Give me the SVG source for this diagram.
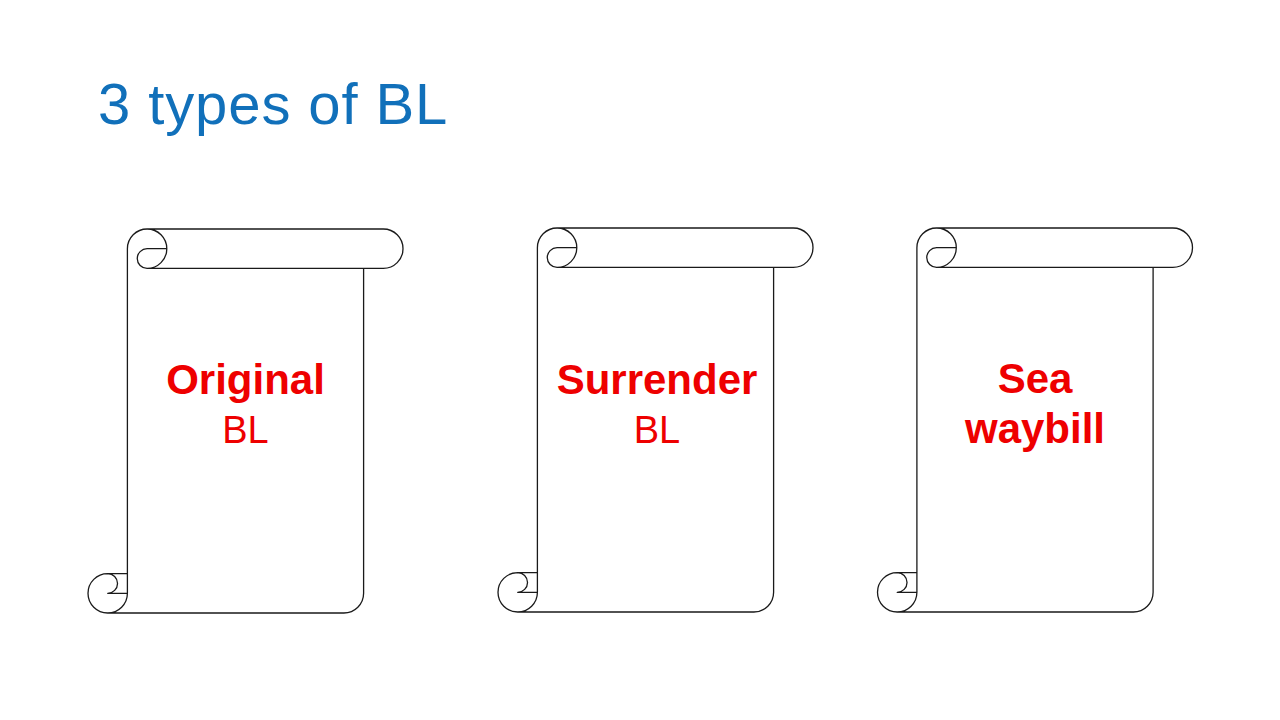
<svg xmlns="http://www.w3.org/2000/svg" width="1280" height="720" viewBox="0 0 1280 720">
<style>
.title{font-family:"Liberation Sans",Arial,sans-serif;font-size:58px;letter-spacing:0.9px;fill:#1170BA}
.b{font-family:"Liberation Sans",Arial,sans-serif;font-size:42px;font-weight:bold;fill:#EE0000;text-anchor:middle}
.r{font-family:"Liberation Sans",Arial,sans-serif;font-size:38px;fill:#EE0000;text-anchor:middle}
.sc{fill:none;stroke:#1a1a1a;stroke-width:1.3;stroke-linejoin:round}
.bg{fill:#ffffff;stroke:none}
</style>
<defs>
<g id="scroll">
<path class="bg" d="M39.4 344.6 L39.4 19.7 A19.7 19.7 0 0 1 59.1 0 L295.3 0 A19.7 19.7 0 0 1 295.3 39.4 L275.6 39.4 L275.6 364.3 A19.7 19.7 0 0 1 255.9 384 L19.7 384 A19.7 19.7 0 0 1 19.7 344.6 Z"/>
<path class="sc" d="M39.4 344.6 L39.4 19.7 A19.7 19.7 0 0 1 59.1 0 L295.3 0 A19.7 19.7 0 0 1 295.3 39.4 L275.6 39.4 L275.6 364.3 A19.7 19.7 0 0 1 255.9 384 L19.7 384 A19.7 19.7 0 0 1 19.7 344.6 Z M59.1 0 A19.7 19.7 0 0 1 59.1 39.4 A9.85 9.85 0 0 1 59.1 19.7 L78.8 19.7 M275.6 39.4 L59.1 39.4 M19.7 344.6 A9.85 9.85 0 0 1 19.7 364.3 L39.4 364.3 M19.7 384 A19.7 19.7 0 0 0 39.4 364.3 L39.4 344.6"/>
</g>
</defs>
<rect width="1280" height="720" fill="#ffffff"/>
<text class="title" x="98" y="124">3 types of BL</text>
<g id="original">
<use href="#scroll" transform="translate(88,229)"/>
<text class="b" x="245.5" y="394">Original</text>
<text class="r" x="245.5" y="443">BL</text>
</g>
<g id="surrender">
<use href="#scroll" transform="translate(498,228)"/>
<text class="b" x="657" y="394">Surrender</text>
<text class="r" x="657" y="443">BL</text>
</g>
<g id="seawaybill">
<use href="#scroll" transform="translate(877.5,228)"/>
<text class="b" x="1035" y="393">Sea</text>
<text class="b" x="1035" y="443">waybill</text>
</g>
<g id="connectors"></g>
</svg>
